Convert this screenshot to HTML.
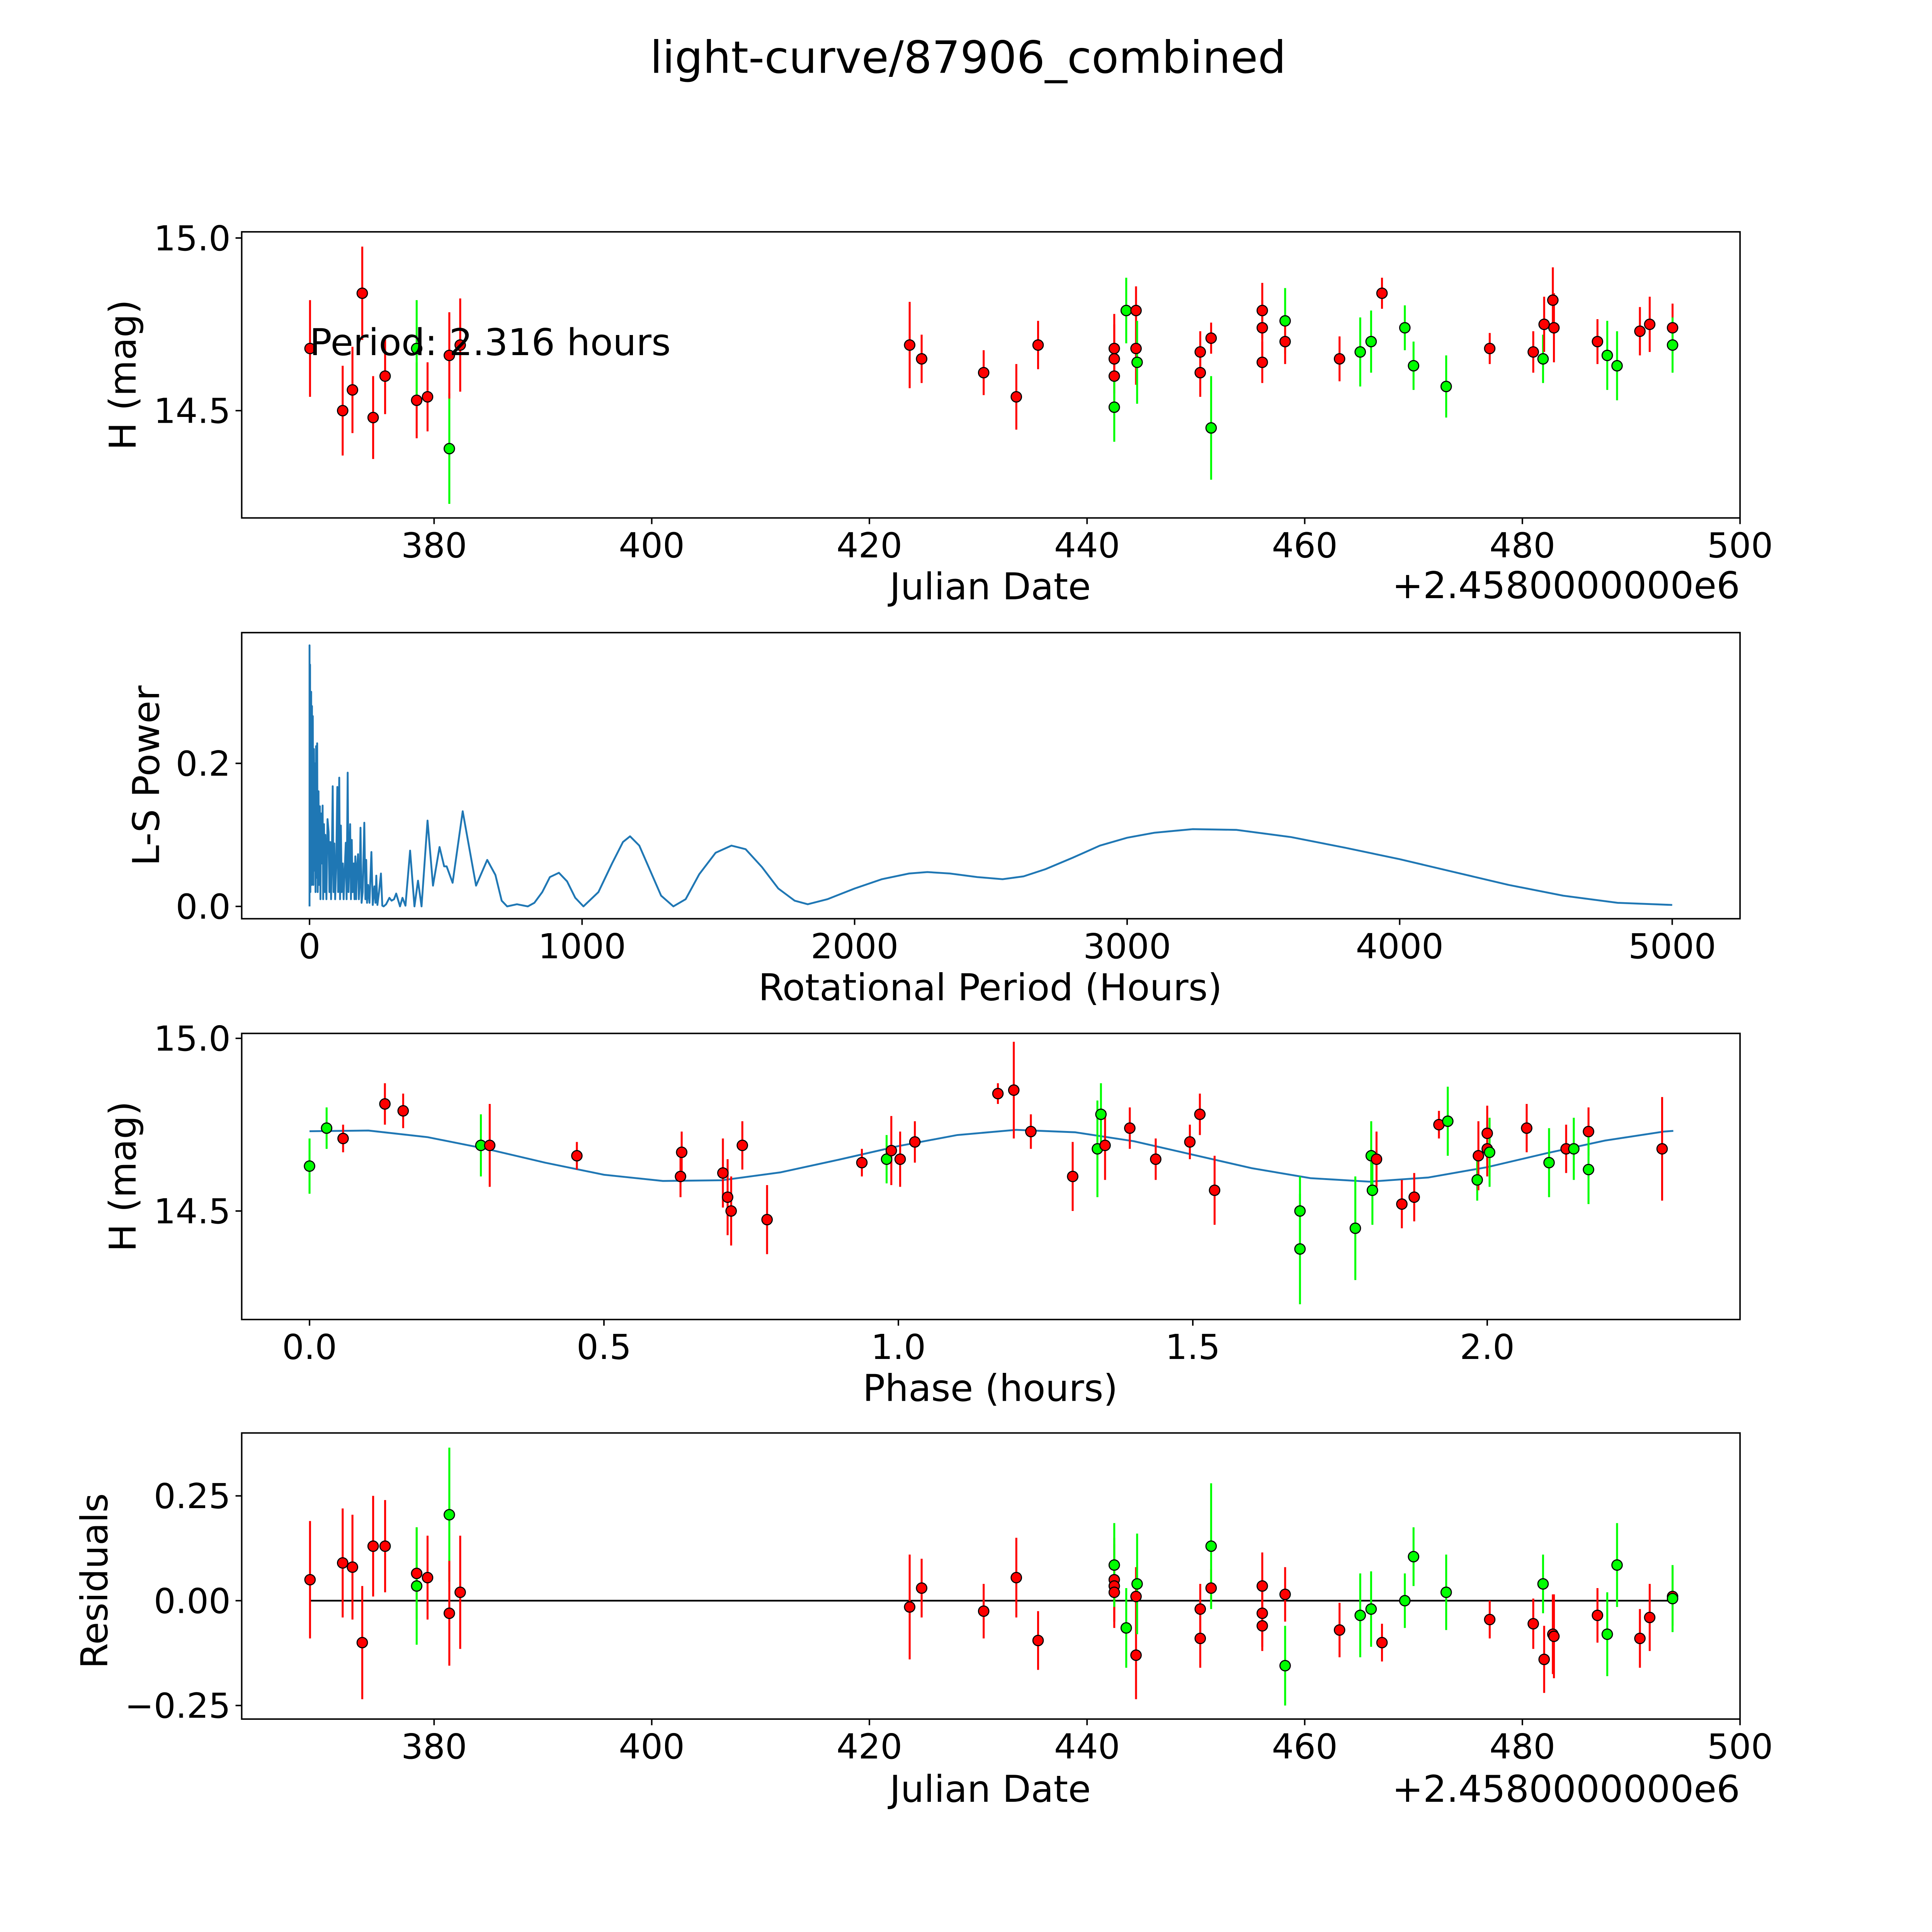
<!DOCTYPE html>
<html><head><meta charset="utf-8"><style>
html,body{margin:0;padding:0;background:#fff;overflow:hidden;width:5400px;height:5400px;}
svg{display:block;font-family:"DejaVu Sans","Liberation Sans",sans-serif;}
</style></head><body>
<svg id="fig" width="5400" height="5400" viewBox="0 0 1692 1692" xmlns="http://www.w3.org/2000/svg">
<rect width="1692" height="1692" fill="#fff"/>
<text x="785" y="59" font-size="36" text-anchor="middle">light-curve/87906_combined</text>
<g id="g1"></g><g id="g2"></g><g id="g3"></g><g id="g4"></g>
</svg>
<script>
// ---- observation data ----
const jd = [368.6,371.6,372.5,373.4,374.4,375.5,378.4,378.4,379.4,381.4,381.4,382.4,423.7,424.8,430.5,433.5,435.5,442.5,442.5,442.5,442.5,443.6,444.5,444.5,444.6,450.4,450.4,451.4,451.4,456.1,456.1,456.1,458.2,458.2,463.2,465.1,466.1,467.1,469.2,470.0,473.0,477.0,481.0,481.9,482.0,482.8,482.9,486.9,487.8,488.7,490.8,491.7,493.8,493.8];
const mag = [14.68,14.50,14.56,14.84,14.48,14.60,14.53,14.68,14.54,14.39,14.66,14.69,14.69,14.65,14.61,14.54,14.69,14.68,14.65,14.60,14.51,14.79,14.79,14.68,14.64,14.67,14.61,14.71,14.45,14.79,14.74,14.64,14.76,14.70,14.65,14.67,14.70,14.84,14.74,14.63,14.57,14.68,14.67,14.65,14.75,14.82,14.74,14.70,14.66,14.63,14.73,14.75,14.74,14.69];
const magErr = [.14,.13,.125,.135,.12,.11,.11,.14,.10,.16,.125,.135,.125,.07,.065,.095,.07,.10,.10,.07,.10,.095,.07,.105,.12,.06,.07,.045,.15,.08,.08,.06,.095,.065,.065,.10,.09,.045,.065,.07,.09,.045,.06,.07,.08,.095,.10,.065,.10,.10,.07,.08,.07,.08];
const filt = "rrrrrrrgrgrrrrrrrrrrggrrgrrrgrrrgrrggrgggrrgrrrrggrrrg";
const resid = [.05,.09,.08,-.10,.13,.13,.065,.035,.055,.205,-.03,.02,-.015,.03,-.025,.055,-.095,.05,.035,.02,.085,-.065,.01,-.13,.04,-.02,-.09,.03,.13,.035,-.03,-.06,-.155,.015,-.07,-.035,-.02,-.10,.0,.105,.02,-.045,-.055,.04,-.14,-.08,-.085,-.035,-.08,.085,-.09,-.04,.01,.005];
// ---- phased data ----
const phase = [0,.029,.057,.128,.159,.291,.306,.454,.630,.632,.702,.710,.716,.735,.777,.938,.980,.988,1.003,1.028,1.169,1.196,1.225,1.296,1.338,1.344,1.351,1.393,1.437,1.495,1.512,1.537,1.682,1.682,1.776,1.803,1.805,1.812,1.855,1.876,1.918,1.933,1.983,1.985,2.0,2.0,2.004,2.067,2.105,2.134,2.147,2.172,2.172,2.297];
const phMag = [14.63,14.74,14.71,14.81,14.79,14.69,14.69,14.66,14.60,14.67,14.61,14.54,14.50,14.69,14.475,14.64,14.65,14.675,14.65,14.70,14.84,14.85,14.73,14.60,14.68,14.78,14.69,14.74,14.65,14.70,14.78,14.56,14.50,14.39,14.45,14.66,14.56,14.65,14.52,14.54,14.75,14.76,14.59,14.66,14.725,14.68,14.67,14.74,14.64,14.68,14.68,14.73,14.62,14.68];
const phFilt = "ggrrrgrrrrrrrrrrgrrrrrrrggrrrrrrgggggrrrrggrrrgrgrgrgr";
const phErr = [.08,.06,.04,.06,.05,.09,.12,.04,.06,.06,.10,.11,.10,.07,.10,.04,.07,.10,.08,.06,.03,.14,.05,.10,.14,.09,.10,.06,.06,.05,.06,.10,.10,.16,.15,.10,.10,.08,.07,.07,.04,.10,.06,.10,.08,.08,.10,.07,.10,.07,.09,.07,.10,.15];
const modelPhase = [0,.1,.2,.3,.4,.5,.6,.7,.8,.9,1.0,1.1,1.2,1.3,1.4,1.5,1.6,1.7,1.8,1.9,2.0,2.1,2.2,2.3,2.316];
const modelMag = [14.731,14.733,14.714,14.680,14.640,14.605,14.587,14.589,14.612,14.649,14.688,14.720,14.735,14.728,14.702,14.663,14.624,14.595,14.585,14.597,14.627,14.667,14.704,14.730,14.732];
// ---- periodogram (10 entries per line, both arrays aligned) ----
const lsPeriod = [
0,0,1,2,3,4,5,6,8,9,
10,12,14,16,18,20,22,24,26,28,
30,33,35,38,40,42,45,48,50,53,
56,58,62,66,70,73,76,79,82,85,
88,91,94,98,102,105,109,112,115,118,
122,125,128,133,136,140,143,149,152,155,
158,162,165,168,171,174,178,181,184,187,
191,195,201,205,208,211,215,220,227,232,
238,242,245,249,255,262,267,272,281,293,
301,310,318,332,341,352,369,385,398,411,
433,453,477,494,503,525,562,611,652,682,
705,725,761,801,825,854,882,915,945,975,
1005,1060,1110,1150,1176,1210,1250,1290,1335,1380,
1430,1490,1548,1600,1660,1720,1780,1828,1900,2000,
2100,2200,2267,2350,2450,2543,2620,2700,2800,2900,
3000,3100,3240,3400,3600,3800,4000,4200,4400,4600,
4800,5000];
const lsPower = [
0,.365,.05,.338,.02,.292,.04,.30,.03,.28,
.04,.266,.03,.22,.05,.20,.02,.224,.04,.228,
.02,.161,.03,.14,.01,.13,.06,.141,.01,.115,
.02,.10,.01,.122,.104,.02,.09,.01,.07,.168,
.02,.088,.01,.06,.167,.02,.180,.01,.113,.02,
.06,.01,.04,.089,.01,.187,.02,.115,.01,.093,
.02,.06,.01,.070,.01,.054,.073,.01,.03,.110,
.005,.02,.117,.01,.065,.005,.03,.005,.076,.002,
.028,.005,.043,.002,.02,.046,.001,0,.003,.012,
.008,.010,.018,0,.012,.001,.078,0,.036,0,
.120,.029,.083,.056,.056,.033,.133,.029,.065,.044,
.008,0,.003,0,.005,.020,.041,.047,.035,.012,
0,.02,.06,.09,.098,.085,.05,.015,0,.01,
.045,.075,.085,.08,.055,.025,.008,.003,.01,.025,
.038,.046,.048,.046,.041,.038,.042,.052,.068,.085,
.096,.103,.108,.107,.097,.082,.066,.048,.030,.015,
.005,.002];

const NS = "http://www.w3.org/2000/svg";
function mk(parent, tag, attrs){const e=document.createElementNS(NS,tag);for(const k in attrs)e.setAttribute(k,attrs[k]);parent.appendChild(e);return e;}
function lin(d0,d1,p0,p1){return v=>p0+(v-d0)*(p1-p0)/(d1-d0);}
const COL={r:"#ff0000",g:"#00ff00"};

function axesFrame(g, name, L,T,R,B){
  const r=mk(g,"rect",{x:L,y:T,width:R-L,height:B-T,fill:"none",stroke:"#000","stroke-width":1.2});
  
  
}
function xTicks(g,name,vals,labels,sx,B){
  vals.forEach((v,i)=>{
    const x=sx(v);
    const t=mk(g,"line",{x1:x,x2:x,y1:B,y2:B+5,stroke:"#000","stroke-width":1.2});
    
    
    const tx=mk(g,"text",{x:x,y:B+32,"font-size":28,"text-anchor":"middle"});
    tx.textContent=labels[i];
    
    
  });
}
function yTicks(g,name,vals,labels,sy,L){
  vals.forEach((v,i)=>{
    const y=sy(v);
    const t=mk(g,"line",{x1:L-5,x2:L,y1:y,y2:y,stroke:"#000","stroke-width":1.2});
    
    
    const tx=mk(g,"text",{x:L-9,y:y+10,"font-size":28,"text-anchor":"end"});
    tx.textContent=labels[i];
    
    
  });
}
function label(g,name,txt,x,y,rot){
  const a={x:x,y:y,"font-size":30,"text-anchor":"middle"};
  if(rot)a.transform="rotate(-90 "+x+" "+y+")";
  const t=mk(g,"text",a);t.textContent=txt;
  
  
}
function points(g,name,xs,ys,errs,cols,sx,sy){
  for(let i=0;i<xs.length;i++){
    const x=sx(xs[i]),y=sy(ys[i]);
    const e=Math.abs(sy(ys[i]+errs[i])-y);
    const l=mk(g,"line",{x1:x,x2:x,y1:y-e,y2:y+e,stroke:COL[cols[i]],"stroke-width":1.6});
    
    
  }
  for(let i=0;i<xs.length;i++){
    const c=mk(g,"circle",{cx:sx(xs[i]),cy:sy(ys[i]),r:4.2,fill:COL[cols[i]],stroke:"#000","stroke-width":0.9});
    
    
  }
}
function offsetText(g,name,y){
  const t=mk(g,"text",{x:1411,y:y,"font-size":30,"text-anchor":"end"});
  t.textContent="+2.4580000000e6";
  
  
}

// Panel 1
(function(){
  const g=document.getElementById("g1");
  const L=196,T=188,R=1411,B=420;
  const sx=lin(380,500,352,1411), sy=lin(15.0,14.5,193,333);
  axesFrame(g,"light-curve-axes",L,T,R,B);
  points(g,"light-curve",jd,mag,magErr,filt,sx,sy);
  xTicks(g,"light-curve",[380,400,420,440,460,480,500],["380","400","420","440","460","480","500"],sx,B);
  yTicks(g,"light-curve",[14.5,15.0],["14.5","15.0"],sy,L);
  label(g,"light-curve-x-axis-title","Julian Date",803,486);
  label(g,"light-curve-y-axis-title","H (mag)",110,304,true);
  offsetText(g,"light-curve-x-offset",485);
  const t=mk(g,"text",{x:251,y:288,"font-size":30});t.textContent="Period: 2.316 hours";
  
  
})();

// Panel 2
(function(){
  const g=document.getElementById("g2");
  const L=196,T=513,R=1411,B=745;
  const sx=lin(0,5000,251,1356), sy=lin(0,0.2,735,619);
  axesFrame(g,"periodogram-axes",L,T,R,B);
  let d="";
  for(let i=0;i<lsPeriod.length;i++){d+=(i?"L":"M")+sx(lsPeriod[i]).toFixed(2)+" "+sy(lsPower[i]).toFixed(2);}
  const p=mk(g,"path",{d:d,fill:"none",stroke:"#1f77b4","stroke-width":1.5,"stroke-linejoin":"round"});
  
  
  xTicks(g,"periodogram",[0,1000,2000,3000,4000,5000],["0","1000","2000","3000","4000","5000"],sx,B);
  yTicks(g,"periodogram",[0,0.2],["0.0","0.2"],sy,L);
  label(g,"periodogram-x-axis-title","Rotational Period (Hours)",803,811);
  label(g,"periodogram-y-axis-title","L-S Power",129,629,true);
})();

// Panel 3
(function(){
  const g=document.getElementById("g3");
  const L=196,T=838,R=1411,B=1070;
  const sx=lin(0,2,251,1206), sy=lin(15.0,14.5,842,982);
  axesFrame(g,"phased-axes",L,T,R,B);
  let d="";
  for(let i=0;i<modelPhase.length;i++){d+=(i?"L":"M")+sx(modelPhase[i]).toFixed(2)+" "+sy(modelMag[i]).toFixed(2);}
  const p=mk(g,"path",{d:d,fill:"none",stroke:"#1f77b4","stroke-width":1.5});
  
  
  points(g,"phased",phase,phMag,phErr,phFilt,sx,sy);
  xTicks(g,"phased",[0,0.5,1,1.5,2],["0.0","0.5","1.0","1.5","2.0"],sx,B);
  yTicks(g,"phased",[14.5,15.0],["14.5","15.0"],sy,L);
  label(g,"phased-x-axis-title","Phase (hours)",803,1136);
  label(g,"phased-y-axis-title","H (mag)",110,954,true);
})();

// Panel 4
(function(){
  const g=document.getElementById("g4");
  const L=196,T=1162,R=1411,B=1394;
  const sx=lin(380,500,352,1411), sy=lin(0,0.25,1298,1213);
  axesFrame(g,"residuals-axes",L,T,R,B);
  const z=mk(g,"line",{x1:sx(jd[0]),x2:sx(jd[jd.length-1]),y1:sy(0),y2:sy(0),stroke:"#000","stroke-width":1.4});
  
  
  points(g,"residuals",jd,resid,magErr,filt,sx,sy);
  xTicks(g,"residuals",[380,400,420,440,460,480,500],["380","400","420","440","460","480","500"],sx,B);
  yTicks(g,"residuals",[-0.25,0,0.25],["\u22120.25","0.00","0.25"],sy,L);
  label(g,"residuals-x-axis-title","Julian Date",803,1461);
  label(g,"residuals-y-axis-title","Residuals",87,1282,true);
  offsetText(g,"residuals-x-offset",1461);
})();
</script>
</body></html>
